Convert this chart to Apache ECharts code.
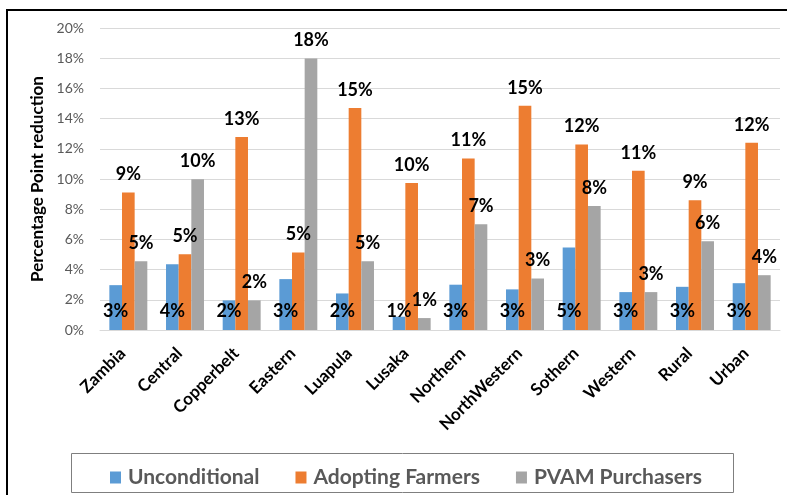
<!DOCTYPE html>
<html>
<head>
<meta charset="utf-8">
<script src="https://cdn.jsdelivr.net/npm/echarts@6/dist/echarts.min.js"></script>
<style>
html,body{margin:0;padding:0;background:#fff;}
#chart{width:787px;height:495px;}
</style>
</head>
<body>
<div id="chart"></div>
<script>
var categories = ['Zambia','Central','Copperbelt','Eastern','Luapula','Lusaka','Northern','NorthWestern','Sothern','Western','Rural','Urban'];
var unconditional = [2.97, 4.36, 1.96, 3.37, 2.42, 0.88, 3.0, 2.69, 5.46, 2.51, 2.86, 3.1];
var adoptingFarmers = [9.1, 5.02, 12.78, 5.13, 14.7, 9.74, 11.35, 14.85, 12.29, 10.55, 8.59, 12.4];
var pvamPurchasers = [4.56, 9.98, 1.96, 17.98, 4.56, 0.79, 7.0, 3.41, 8.22, 2.51, 5.88, 3.63];
var seriesNames = ['Unconditional','Adopting Farmers','PVAM Purchasers'];

var FONT = 'Lato, "Liberation Sans", sans-serif';
var labelFmt = function(p){ return Math.round(p.value) + '%'; };
var topLabel = {show:true, position:'top', distance:9, formatter:labelFmt, color:'#000', fontWeight:'bold', fontSize:18, fontFamily:FONT};

var chart = echarts.init(document.getElementById('chart'), null, {renderer:'canvas'});
chart.setOption({
  animation:false,
  backgroundColor:'#fff',
  color:['#5B9BD5','#ED7D31','#A5A5A5'],
  grid:{left:100, right:7, top:28, bottom:165, containLabel:false},
  graphic:[
    {type:'rect', shape:{x:7, y:10, width:900, height:600}, style:{fill:'none', stroke:'#000', lineWidth:2}, z:0},
    {type:'rect', shape:{x:71.5, y:453.5, width:662, height:39}, style:{fill:'none', stroke:'#7f7f7f', lineWidth:1}, z:0}
  ],
  legend:{
    data:seriesNames,
    left:105, top:462,
    itemWidth:11, itemHeight:12, itemGap:36,
    icon:'rect',
    textStyle:{color:'#595959', fontWeight:'bold', fontSize:21, fontFamily:FONT, padding:[0,0,0,2]}
  },
  xAxis:{
    type:'category',
    data:categories,
    axisLine:{lineStyle:{color:'#d9d9d9'}},
    axisTick:{show:false},
    axisLabel:{rotate:45, interval:0, margin:15, padding:[0,8,0,0], color:'#000', fontWeight:'bold', fontSize:17, fontFamily:FONT}
  },
  yAxis:{
    type:'value',
    min:0, max:20, interval:2,
    name:'Percentage Point reduction',
    nameLocation:'middle',
    nameGap:47,
    nameTextStyle:{color:'#000', fontWeight:'bold', fontSize:17, fontFamily:FONT},
    axisLine:{show:false},
    axisTick:{show:false},
    axisLabel:{formatter:'{value}%', color:'#595959', fontSize:14, margin:16, fontFamily:FONT},
    splitLine:{lineStyle:{color:'#d9d9d9'}}
  },
  series:[
    {name:seriesNames[0], type:'bar', data:unconditional, barGap:'0%', barCategoryGap:'33%',
     label:{show:true, position:'insideBottom', distance:10, formatter:labelFmt, color:'#000', fontWeight:'bold', fontSize:18, fontFamily:FONT}},
    {name:seriesNames[1], type:'bar', data:adoptingFarmers, barGap:'0%', barCategoryGap:'33%', label:topLabel},
    {name:seriesNames[2], type:'bar', data:pvamPurchasers, barGap:'0%', barCategoryGap:'33%', label:topLabel}
  ]
});
</script>
</body>
</html>
